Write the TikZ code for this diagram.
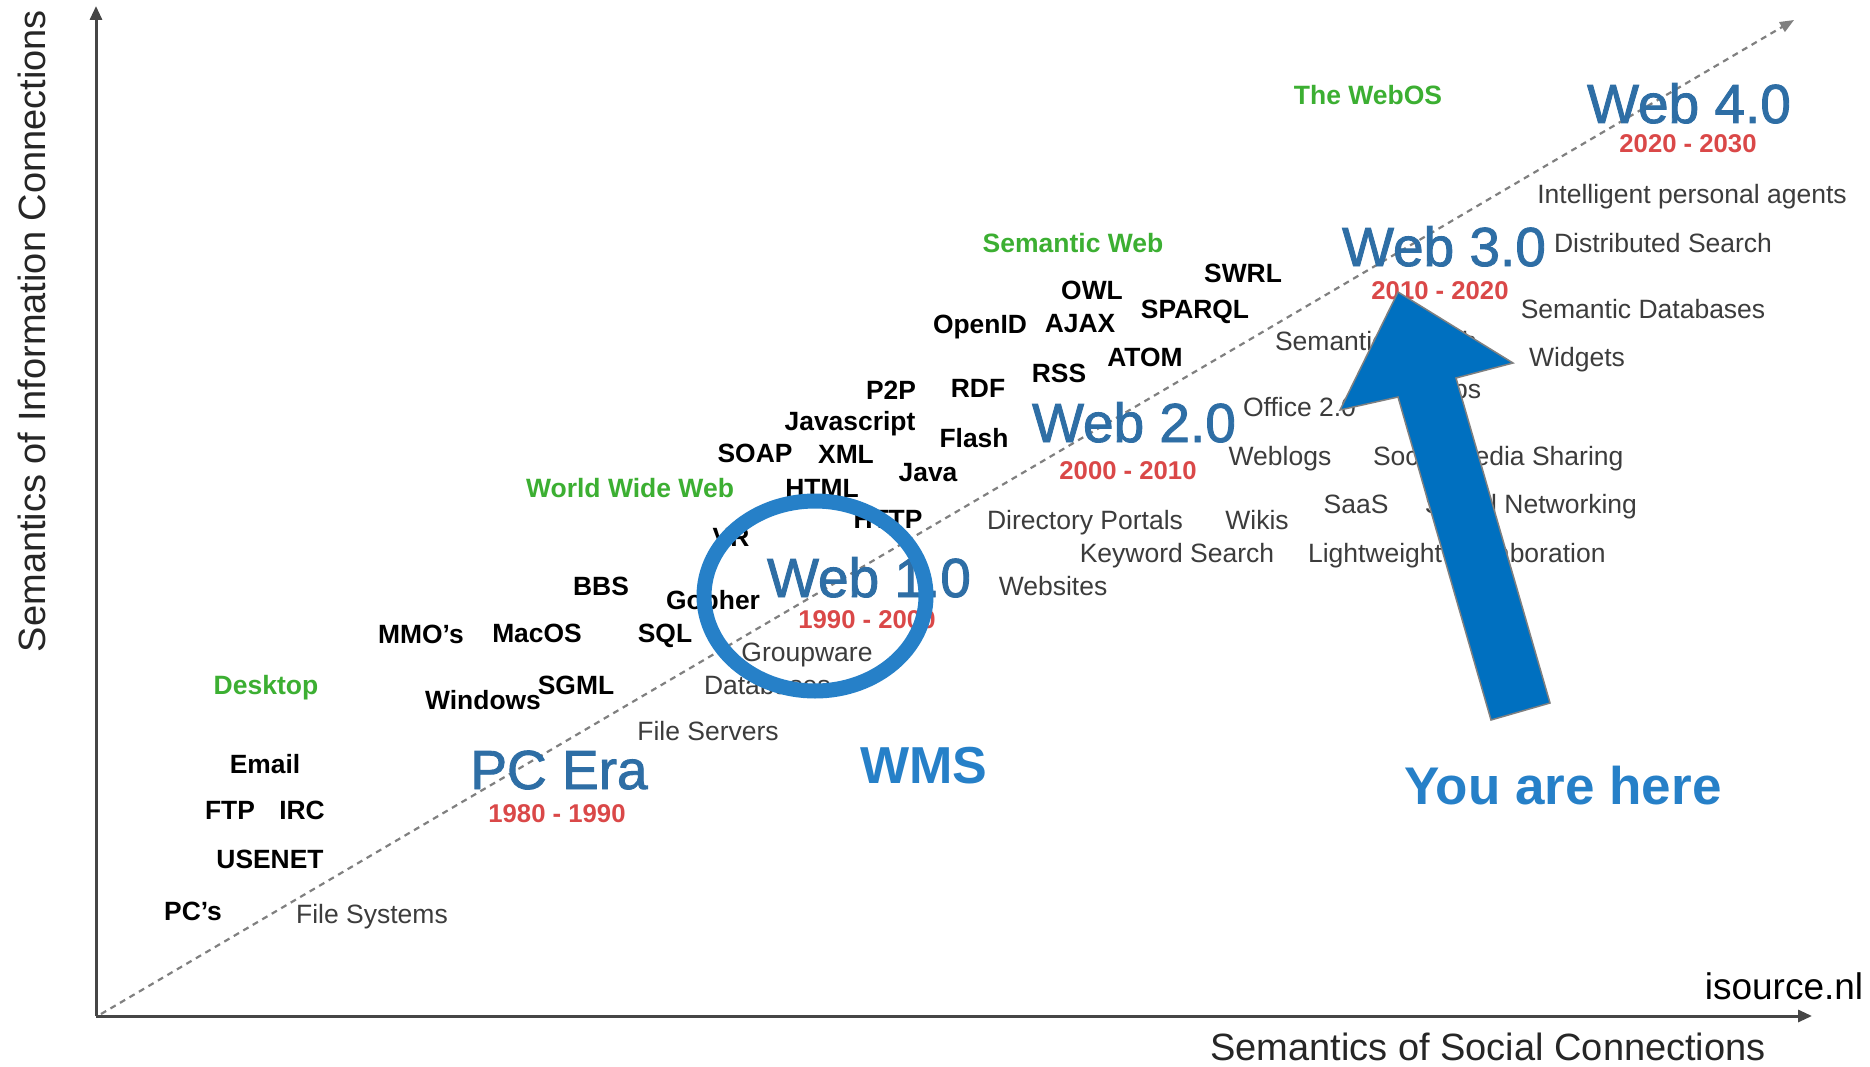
\documentclass[tikz,border=0pt]{standalone}
\usepackage{fontspec}
\setmainfont{Liberation Sans}
\font\erafontraw="Liberation Sans:embolden=1.6" at 55pt
\usetikzlibrary{arrows.meta}
\definecolor{eraBlue}{RGB}{46,110,165}
\definecolor{yrRed}{RGB}{218,72,72}
\definecolor{catGreen}{RGB}{60,175,50}
\definecolor{appGray}{RGB}{60,60,60}
\definecolor{annBlue}{RGB}{38,128,200}
\definecolor{arrowBlue}{RGB}{0,112,192}
\definecolor{axisGray}{RGB}{70,70,70}
\tikzset{
  base/.style={inner sep=0pt, outer sep=0pt, text depth=0pt},
  era/.style={base, font=\erafontraw, text=eraBlue, text height=40pt},
  yr/.style={base, font=\bfseries\fontsize{25.7}{30}\selectfont, text=yrRed, text height=18pt},
  tech/.style={base, font=\bfseries\fontsize{26.4}{30}\selectfont, text=black, text height=19pt},
  cat/.style={base, font=\bfseries\fontsize{26.5}{30}\selectfont, text=catGreen, text height=19pt},
  app/.style={base, font=\fontsize{26.5}{30}\selectfont, text=appGray, text height=19pt},
  axlbl/.style={base, font=\fontsize{38}{42}\selectfont, text=black!85, text height=27pt},
  ann/.style={base, font=\bfseries\fontsize{53}{60}\selectfont, text=annBlue, text height=38pt},
}
\begin{document}
\begin{tikzpicture}[x=1pt,y=-1pt]
\fill[white] (0,0) rectangle (1870,1067);
\useasboundingbox (0,0) rectangle (1870,1067);

% axes
\coordinate (O) at (96,1016);
\coordinate (Ytop) at (96,6);
\coordinate (Xend) at (1812,1016);
\coordinate (Dstart) at (101,1014);
\coordinate (Dend) at (1794,20);
\draw[axisGray, line width=3pt, -{Triangle[length=14pt,width=12pt]}] (O) -- (Ytop);
\draw[axisGray, line width=3pt, -{Triangle[length=14pt,width=12pt]}] (O) -- (Xend);
\draw[gray, line width=2.2pt, dash pattern=on 6pt off 5pt, -{Triangle[length=14pt,width=11pt]}] (Dstart) -- (Dend);

% axis labels
\node[axlbl, rotate=90] (ylab) at (32,331) {Semantics of Information Connections};
\node[axlbl] (xlab) at (1488,1047) {Semantics of Social Connections};
\node[axlbl, font=\fontsize{37}{42}\selectfont, text=black] (src) at (1784,986) {isource.nl};

% category labels
\node[cat] (webos) at (1368,95) {The WebOS};
\node[cat] (semweb) at (1073,243) {Semantic Web};
\node[cat] (www) at (630,488) {World Wide Web};
\node[cat] (desk) at (266,685) {Desktop};

% eras
\node[era] (w4) at (1689,103) {Web 4.0};
\node[yr] (y4) at (1688,144) {2020 - 2030};
\node[era] (w3) at (1444,246) {Web 3.0};
\node[yr] (y3) at (1440,290) {2010 - 2020};
\node[era] (w2) at (1134,422) {Web 2.0};
\node[yr] (y2) at (1128,470) {2000 - 2010};
\node[era] (w1) at (869,577) {Web 1.0};
\node[yr] (y1) at (867,619) {1990 - 2000};
\node[era] (pc) at (559,769) {PC Era};
\node[yr] (ypc) at (557,813) {1980 - 1990};

% technologies
\node[tech] (swrl) at (1243,273) {SWRL};
\node[tech] (owl) at (1092,290) {OWL};
\node[tech] (sparql) at (1195,309) {SPARQL};
\node[tech] (openid) at (980,324) {OpenID};
\node[tech] (ajax) at (1080,323) {AJAX};
\node[tech] (atom) at (1145,357) {ATOM};
\node[tech] (rss) at (1059,373) {RSS};
\node[tech] (p2p) at (891,390) {P2P};
\node[tech] (rdf) at (978,388) {RDF};
\node[tech] (js) at (850,421) {Javascript};
\node[tech] (flash) at (974,438) {Flash};
\node[tech] (soap) at (755,453) {SOAP};
\node[tech] (xml) at (846,454) {XML};
\node[tech] (java) at (928,472) {Java};
\node[tech] (html) at (822,488) {HTML};
\node[tech] (http) at (888,519) {HTTP};
\node[tech] (vr) at (731,537) {VR};
\node[tech] (bbs) at (601,586) {BBS};
\node[tech] (gopher) at (713,600) {Gopher};
\node[tech] (mmo) at (421,634) {MMO's};
\node[tech] (macos) at (537,633) {MacOS};
\node[tech] (sql) at (665,633) {SQL};
\node[tech] (sgml) at (576,685) {SGML};
\node[tech] (windows) at (483,700) {Windows};
\node[tech] (email) at (265,764) {Email};
\node[tech] (ftp) at (230,810) {FTP};
\node[tech] (irc) at (302,810) {IRC};
\node[tech] (usenet) at (270,859) {USENET};
\node[tech] (pcs) at (193,911) {PC's};

% applications
\node[app] (fsys) at (372,914) {File Systems};
\node[app] (fserv) at (708,731) {File Servers};
\node[app, anchor=west] (db) at (704,685) {Databases};
\node[app] (gw) at (807,652) {Groupware};
\node[app] (websites) at (1053,586) {Websites};
\node[app] (kws) at (1177,553) {Keyword Search};
\node[app] (dirp) at (1085,520) {Directory Portals};
\node[app] (wikis) at (1257,520) {Wikis};
\node[app] (weblogs) at (1280,456) {Weblogs};
\node[app, anchor=west] (office) at (1243,407) {Office 2.0};
\node[app, anchor=west] (semsearch) at (1275,341) {Semantic Search};
\node[app, anchor=east] (mashups) at (1481,389) {Mashups};
\node[app, anchor=west] (smshare) at (1373,456) {Social Media Sharing};
\node[app] (saas) at (1356,504) {SaaS};
\node[app, anchor=east] (socnet) at (1637,504) {Social Networking};
\node[app, anchor=west] (lwc) at (1308,553) {Lightweight Collaboration};
\node[app] (widgets) at (1577,357) {Widgets};
\node[app] (semdb) at (1643,309) {Semantic Databases};
\node[app] (dsearch) at (1663,243) {Distributed Search};
\node[app] (ipa) at (1692,194) {Intelligent personal agents};

% annotations
\draw[annBlue, line width=15pt] (815,596) ellipse [x radius=111pt, y radius=95pt];
\node[ann, font=\bfseries\fontsize{52}{60}\selectfont] (wms) at (924,764) {WMS};
\node[ann] (here) at (1563,785) {You are here};

\filldraw[fill=arrowBlue, draw=gray, line width=1.5pt, line join=miter]
  (1398,292) -- (1513,363) -- (1456,378) -- (1550,703) -- (1491,720) -- (1398,397) -- (1340,410) -- cycle;
\end{tikzpicture}
\end{document}
